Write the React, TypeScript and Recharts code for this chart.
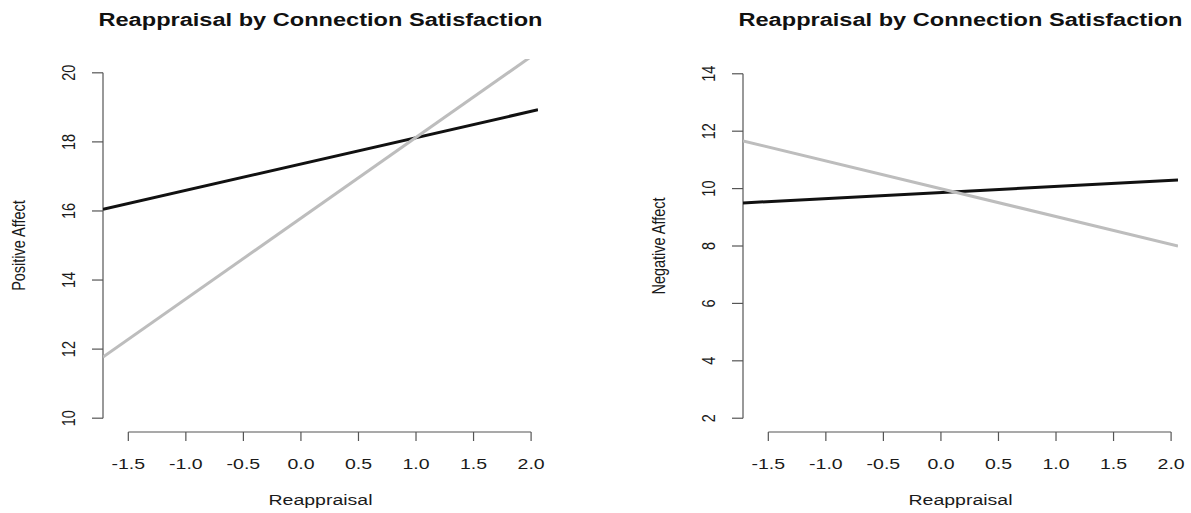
import { Line, LineChart, ReferenceLine, XAxis, YAxis } from 'recharts'

// reappraisal (x) range covered by the plotted lines, and its axis ticks
const reappraisalEnds = [-1.72, 2.06]
const reappraisalTicks = [-1.5, -1.0, -0.5, 0.0, 0.5, 1.0, 1.5, 2.0]

// positive affect panel
const positiveTicks = [10, 12, 14, 16, 18, 20]
const positiveDomain = [9.6, 20.4]
const positiveBlack = [16.05, 18.93]
const positiveGrey = [11.77, 20.61]

// negative affect panel
const negativeTicks = [2, 4, 6, 8, 10, 12, 14]
const negativeDomain = [1.52, 14.48]
const negativeBlack = [9.5, 10.3]
const negativeGrey = [11.66, 8.0]

const titleText = 'Reappraisal by Connection Satisfaction'

const FONT = '"Liberation Sans", Arial, Helvetica, sans-serif'
const STRETCH = 1.3
const AXIS = '#555'

const XTick = (props: any) => {
  const { x, y, payload } = props
  return (
    <text
      transform={`translate(${x},${y + 25.5}) scale(${STRETCH},1)`}
      textAnchor="middle"
      fontSize={15}
      fontFamily={FONT}
      fill="#1a1a1a"
    >
      {Number(payload.value).toFixed(1)}
    </text>
  )
}

const YTick = (props: any) => {
  const { x, y, payload } = props
  return (
    <text
      transform={`translate(${x - 15},${y}) rotate(-90) scale(1,${STRETCH})`}
      textAnchor="middle"
      fontSize={14.5}
      fontFamily={FONT}
      fill="#1a1a1a"
    >
      {payload.value}
    </text>
  )
}

type PanelProps = {
  left: number
  width: number
  marginLeft: number
  marginRight: number
  marginTop: number
  yLabel: string
  yTicks: number[]
  yDomain: number[]
  black: number[]
  grey: number[]
}

function Panel({ left, width, marginLeft, marginRight, marginTop, yLabel, yTicks, yDomain, black, grey }: PanelProps) {
  const data = reappraisalEnds.map((x, i) => ({ x, black: black[i], grey: grey[i] }))
  return (
    <div style={{ position: 'absolute', left, top: 0 }}>
      <LineChart
        width={width}
        height={513}
        data={data}
        margin={{ top: marginTop, right: marginRight, bottom: 31, left: marginLeft }}
      >
        <XAxis
          dataKey="x"
          type="number"
          domain={reappraisalEnds}
          ticks={reappraisalTicks}
          allowDataOverflow
          axisLine={false}
          tickLine={{ stroke: AXIS, strokeWidth: 1.2 }}
          tickSize={9}
          tick={<XTick />}
          height={50}
          label={{
            content: (p: any) => {
              const vb = p.viewBox
              return (
                <text
                  transform={`translate(${vb.x + vb.width / 2},${vb.y + 73}) scale(${STRETCH},1)`}
                  textAnchor="middle"
                  fontSize={15}
                  fontFamily={FONT}
                  fill="#1a1a1a"
                >
                  Reappraisal
                </text>
              )
            },
          }}
        />
        <YAxis
          type="number"
          domain={yDomain}
          ticks={yTicks}
          allowDataOverflow
          axisLine={false}
          tickLine={{ stroke: AXIS, strokeWidth: 1.2 }}
          tickSize={11}
          tick={<YTick />}
          width={60}
          label={{
            content: (p: any) => {
              const vb = p.viewBox
              return (
                <text
                  transform={`translate(${vb.x - 18},${vb.y + vb.height / 2}) rotate(-90) scale(1,${STRETCH})`}
                  textAnchor="middle"
                  fontSize={14.5}
                  fontFamily={FONT}
                  fill="#1a1a1a"
                >
                  {yLabel}
                </text>
              )
            },
          }}
        />
        <ReferenceLine
          segment={[
            { x: reappraisalEnds[0], y: yTicks[0] },
            { x: reappraisalEnds[0], y: yTicks[yTicks.length - 1] },
          ]}
          stroke={AXIS}
          strokeWidth={1.2}
          ifOverflow="visible"
        />
        <ReferenceLine
          segment={[
            { x: reappraisalTicks[0], y: yDomain[0] },
            { x: reappraisalTicks[reappraisalTicks.length - 1], y: yDomain[0] },
          ]}
          stroke={AXIS}
          strokeWidth={1.2}
          ifOverflow="visible"
        />
        <Line dataKey="black" stroke="#111" strokeWidth={3} dot={false} isAnimationActive={false} />
        <Line dataKey="grey" stroke="#bdbdbd" strokeWidth={3} dot={false} isAnimationActive={false} />
      </LineChart>
    </div>
  )
}

export default function App() {
  return (
    <div style={{ position: 'fixed', left: 0, top: 0, width: 1191, height: 513, background: '#fff', overflow: 'hidden' }}>
      <Panel
        left={0}
        width={595}
        marginLeft={43}
        marginRight={57}
        marginTop={59}
        yLabel="Positive Affect"
        yTicks={positiveTicks}
        yDomain={positiveDomain}
        black={positiveBlack}
        grey={positiveGrey}
      />
      <Panel
        left={595}
        width={596}
        marginLeft={88}
        marginRight={13}
        marginTop={60}
        yLabel="Negative Affect"
        yTicks={negativeTicks}
        yDomain={negativeDomain}
        black={negativeBlack}
        grey={negativeGrey}
      />
      <svg width={1191} height={40} style={{ position: 'absolute', left: 0, top: 0 }}>
        {[320.5, 960.5].map((cx) => (
          <text
            key={cx}
            transform={`translate(${cx},26) scale(1.31,1)`}
            textAnchor="middle"
            fontSize={18}
            fontWeight="bold"
            fontFamily={FONT}
            fill="#111"
          >
            {titleText}
          </text>
        ))}
      </svg>
    </div>
  )
}
